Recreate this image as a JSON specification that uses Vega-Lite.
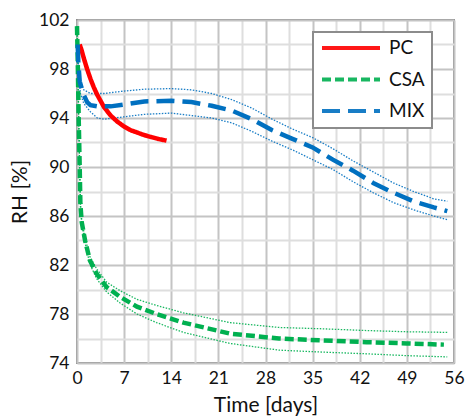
{
  "$schema": "https://vega.github.io/schema/vega-lite/v6.json",
  "width": 377,
  "height": 343,
  "autosize": {"type": "none"},
  "padding": {"left": 77, "top": 20, "right": 16, "bottom": 57},
  "background": "white",
  "config": {
    "view": {"stroke": "#8c8c8c", "strokeWidth": 2},
    "font": "Lato",
    "axis": {
      "labelFont": "Lato", "labelFontSize": 17.5, "labelColor": "#111", "labelFlush": false,
      "titleFont": "Lato", "titleFontSize": 21, "titleFontWeight": "normal", "titleColor": "#111",
      "ticks": false, "domain": false
    },
    "legend": {
      "labelFont": "Lato", "labelFontSize": 19, "labelColor": "#111", "strokeWidth": 2
    }
  },
  "datasets": {
    "curves": [
      {"series": "PC", "band": "mean", "day": 0.4, "rh": 100.0},
      {"series": "PC", "band": "mean", "day": 0.7, "rh": 99.5},
      {"series": "PC", "band": "mean", "day": 1.0, "rh": 98.9},
      {"series": "PC", "band": "mean", "day": 1.5, "rh": 98.0},
      {"series": "PC", "band": "mean", "day": 2.0, "rh": 97.2},
      {"series": "PC", "band": "mean", "day": 2.5, "rh": 96.5},
      {"series": "PC", "band": "mean", "day": 3.0, "rh": 95.9},
      {"series": "PC", "band": "mean", "day": 4.0, "rh": 94.9},
      {"series": "PC", "band": "mean", "day": 5.0, "rh": 94.2},
      {"series": "PC", "band": "mean", "day": 6.0, "rh": 93.7},
      {"series": "PC", "band": "mean", "day": 7.0, "rh": 93.3},
      {"series": "PC", "band": "mean", "day": 8.0, "rh": 93.0},
      {"series": "PC", "band": "mean", "day": 9.0, "rh": 92.8},
      {"series": "PC", "band": "mean", "day": 10.0, "rh": 92.6},
      {"series": "PC", "band": "mean", "day": 11.0, "rh": 92.45},
      {"series": "PC", "band": "mean", "day": 12.0, "rh": 92.3},
      {"series": "PC", "band": "mean", "day": 13.3, "rh": 92.15},

      {"series": "CSA", "band": "mean", "day": 0.0, "rh": 101.5},
      {"series": "CSA", "band": "mean", "day": 0.1, "rh": 99.0},
      {"series": "CSA", "band": "mean", "day": 0.25, "rh": 94.0},
      {"series": "CSA", "band": "mean", "day": 0.4, "rh": 90.0},
      {"series": "CSA", "band": "mean", "day": 0.5, "rh": 87.0},
      {"series": "CSA", "band": "mean", "day": 0.7, "rh": 85.5},
      {"series": "CSA", "band": "mean", "day": 1.2, "rh": 84.0},
      {"series": "CSA", "band": "mean", "day": 1.9, "rh": 82.4},
      {"series": "CSA", "band": "mean", "day": 2.9, "rh": 81.3},
      {"series": "CSA", "band": "mean", "day": 4.4, "rh": 80.2},
      {"series": "CSA", "band": "mean", "day": 6.4, "rh": 79.4},
      {"series": "CSA", "band": "mean", "day": 8.9, "rh": 78.6},
      {"series": "CSA", "band": "mean", "day": 11.8, "rh": 78.0},
      {"series": "CSA", "band": "mean", "day": 15.8, "rh": 77.3},
      {"series": "CSA", "band": "mean", "day": 22.7, "rh": 76.4},
      {"series": "CSA", "band": "mean", "day": 30.0, "rh": 76.0},
      {"series": "CSA", "band": "mean", "day": 36.0, "rh": 75.85},
      {"series": "CSA", "band": "mean", "day": 43.0, "rh": 75.7},
      {"series": "CSA", "band": "mean", "day": 49.0, "rh": 75.6},
      {"series": "CSA", "band": "mean", "day": 54.5, "rh": 75.5},

      {"series": "CSA", "band": "upper", "day": 0.0, "rh": 101.5},
      {"series": "CSA", "band": "upper", "day": 0.1, "rh": 99.0},
      {"series": "CSA", "band": "upper", "day": 0.25, "rh": 94.0},
      {"series": "CSA", "band": "upper", "day": 0.4, "rh": 90.0},
      {"series": "CSA", "band": "upper", "day": 0.5, "rh": 87.2},
      {"series": "CSA", "band": "upper", "day": 0.7, "rh": 85.7},
      {"series": "CSA", "band": "upper", "day": 1.2, "rh": 84.2},
      {"series": "CSA", "band": "upper", "day": 1.9, "rh": 82.7},
      {"series": "CSA", "band": "upper", "day": 2.9, "rh": 81.7},
      {"series": "CSA", "band": "upper", "day": 4.4, "rh": 80.6},
      {"series": "CSA", "band": "upper", "day": 6.4, "rh": 79.9},
      {"series": "CSA", "band": "upper", "day": 8.9, "rh": 79.2},
      {"series": "CSA", "band": "upper", "day": 11.8, "rh": 78.7},
      {"series": "CSA", "band": "upper", "day": 15.8, "rh": 78.1},
      {"series": "CSA", "band": "upper", "day": 22.7, "rh": 77.3},
      {"series": "CSA", "band": "upper", "day": 30.0, "rh": 76.9},
      {"series": "CSA", "band": "upper", "day": 36.0, "rh": 76.8},
      {"series": "CSA", "band": "upper", "day": 43.0, "rh": 76.65},
      {"series": "CSA", "band": "upper", "day": 49.0, "rh": 76.55},
      {"series": "CSA", "band": "upper", "day": 55.0, "rh": 76.5},

      {"series": "CSA", "band": "lower", "day": 0.0, "rh": 101.5},
      {"series": "CSA", "band": "lower", "day": 0.1, "rh": 99.0},
      {"series": "CSA", "band": "lower", "day": 0.25, "rh": 94.0},
      {"series": "CSA", "band": "lower", "day": 0.4, "rh": 90.0},
      {"series": "CSA", "band": "lower", "day": 0.5, "rh": 86.8},
      {"series": "CSA", "band": "lower", "day": 0.7, "rh": 85.3},
      {"series": "CSA", "band": "lower", "day": 1.2, "rh": 83.8},
      {"series": "CSA", "band": "lower", "day": 1.9, "rh": 82.1},
      {"series": "CSA", "band": "lower", "day": 2.9, "rh": 80.9},
      {"series": "CSA", "band": "lower", "day": 4.4, "rh": 79.8},
      {"series": "CSA", "band": "lower", "day": 6.4, "rh": 78.9},
      {"series": "CSA", "band": "lower", "day": 8.9, "rh": 78.0},
      {"series": "CSA", "band": "lower", "day": 11.8, "rh": 77.3},
      {"series": "CSA", "band": "lower", "day": 15.8, "rh": 76.5},
      {"series": "CSA", "band": "lower", "day": 22.7, "rh": 75.6},
      {"series": "CSA", "band": "lower", "day": 30.0, "rh": 75.05},
      {"series": "CSA", "band": "lower", "day": 36.0, "rh": 74.9},
      {"series": "CSA", "band": "lower", "day": 43.0, "rh": 74.75},
      {"series": "CSA", "band": "lower", "day": 49.0, "rh": 74.6},
      {"series": "CSA", "band": "lower", "day": 55.0, "rh": 74.5},

      {"series": "MIX", "band": "mean", "day": 0.1, "rh": 100.0},
      {"series": "MIX", "band": "mean", "day": 0.2, "rh": 98.5},
      {"series": "MIX", "band": "mean", "day": 0.4, "rh": 97.0},
      {"series": "MIX", "band": "mean", "day": 0.9, "rh": 96.0},
      {"series": "MIX", "band": "mean", "day": 1.5, "rh": 95.3},
      {"series": "MIX", "band": "mean", "day": 2.0, "rh": 95.05},
      {"series": "MIX", "band": "mean", "day": 3.0, "rh": 94.95},
      {"series": "MIX", "band": "mean", "day": 5.0, "rh": 94.95},
      {"series": "MIX", "band": "mean", "day": 7.0, "rh": 95.1},
      {"series": "MIX", "band": "mean", "day": 10.0, "rh": 95.35},
      {"series": "MIX", "band": "mean", "day": 14.0, "rh": 95.4},
      {"series": "MIX", "band": "mean", "day": 17.0, "rh": 95.3},
      {"series": "MIX", "band": "mean", "day": 20.0, "rh": 95.0},
      {"series": "MIX", "band": "mean", "day": 23.0, "rh": 94.6},
      {"series": "MIX", "band": "mean", "day": 26.0, "rh": 93.9},
      {"series": "MIX", "band": "mean", "day": 29.0, "rh": 93.0},
      {"series": "MIX", "band": "mean", "day": 32.0, "rh": 92.3},
      {"series": "MIX", "band": "mean", "day": 35.0, "rh": 91.6},
      {"series": "MIX", "band": "mean", "day": 38.0, "rh": 90.6},
      {"series": "MIX", "band": "mean", "day": 41.0, "rh": 89.7},
      {"series": "MIX", "band": "mean", "day": 44.0, "rh": 88.7},
      {"series": "MIX", "band": "mean", "day": 47.0, "rh": 87.9},
      {"series": "MIX", "band": "mean", "day": 50.0, "rh": 87.2},
      {"series": "MIX", "band": "mean", "day": 53.0, "rh": 86.7},
      {"series": "MIX", "band": "mean", "day": 55.0, "rh": 86.4},

      {"series": "MIX", "band": "upper", "day": 0.2, "rh": 98.5},
      {"series": "MIX", "band": "upper", "day": 0.5, "rh": 97.0},
      {"series": "MIX", "band": "upper", "day": 1.0, "rh": 96.3},
      {"series": "MIX", "band": "upper", "day": 2.0, "rh": 96.0},
      {"series": "MIX", "band": "upper", "day": 4.0, "rh": 96.0},
      {"series": "MIX", "band": "upper", "day": 7.0, "rh": 96.2},
      {"series": "MIX", "band": "upper", "day": 10.0, "rh": 96.35},
      {"series": "MIX", "band": "upper", "day": 14.0, "rh": 96.4},
      {"series": "MIX", "band": "upper", "day": 17.0, "rh": 96.3},
      {"series": "MIX", "band": "upper", "day": 20.0, "rh": 96.0},
      {"series": "MIX", "band": "upper", "day": 23.0, "rh": 95.5},
      {"series": "MIX", "band": "upper", "day": 26.0, "rh": 94.8},
      {"series": "MIX", "band": "upper", "day": 29.0, "rh": 93.9},
      {"series": "MIX", "band": "upper", "day": 32.0, "rh": 93.1},
      {"series": "MIX", "band": "upper", "day": 35.0, "rh": 92.4},
      {"series": "MIX", "band": "upper", "day": 38.0, "rh": 91.5},
      {"series": "MIX", "band": "upper", "day": 41.0, "rh": 90.5},
      {"series": "MIX", "band": "upper", "day": 44.0, "rh": 89.6},
      {"series": "MIX", "band": "upper", "day": 47.0, "rh": 88.7},
      {"series": "MIX", "band": "upper", "day": 50.0, "rh": 88.0},
      {"series": "MIX", "band": "upper", "day": 53.0, "rh": 87.4},
      {"series": "MIX", "band": "upper", "day": 55.0, "rh": 87.2},

      {"series": "MIX", "band": "lower", "day": 0.2, "rh": 98.0},
      {"series": "MIX", "band": "lower", "day": 0.5, "rh": 96.0},
      {"series": "MIX", "band": "lower", "day": 1.0, "rh": 95.2},
      {"series": "MIX", "band": "lower", "day": 2.0, "rh": 94.5},
      {"series": "MIX", "band": "lower", "day": 3.0, "rh": 94.0},
      {"series": "MIX", "band": "lower", "day": 4.0, "rh": 93.9},
      {"series": "MIX", "band": "lower", "day": 7.0, "rh": 94.1},
      {"series": "MIX", "band": "lower", "day": 10.0, "rh": 94.3},
      {"series": "MIX", "band": "lower", "day": 14.0, "rh": 94.4},
      {"series": "MIX", "band": "lower", "day": 17.0, "rh": 94.2},
      {"series": "MIX", "band": "lower", "day": 20.0, "rh": 94.0},
      {"series": "MIX", "band": "lower", "day": 23.0, "rh": 93.6},
      {"series": "MIX", "band": "lower", "day": 26.0, "rh": 92.9},
      {"series": "MIX", "band": "lower", "day": 29.0, "rh": 92.1},
      {"series": "MIX", "band": "lower", "day": 32.0, "rh": 91.4},
      {"series": "MIX", "band": "lower", "day": 35.0, "rh": 90.6},
      {"series": "MIX", "band": "lower", "day": 38.0, "rh": 89.8},
      {"series": "MIX", "band": "lower", "day": 41.0, "rh": 88.8},
      {"series": "MIX", "band": "lower", "day": 44.0, "rh": 87.9},
      {"series": "MIX", "band": "lower", "day": 47.0, "rh": 87.1},
      {"series": "MIX", "band": "lower", "day": 50.0, "rh": 86.5},
      {"series": "MIX", "band": "lower", "day": 53.0, "rh": 86.0},
      {"series": "MIX", "band": "lower", "day": 55.0, "rh": 85.7}
    ]
  },
  "data": {"name": "curves"},
  "encoding": {
    "x": {
      "field": "day", "type": "quantitative",
      "scale": {"domain": [0, 56], "nice": false},
      "axis": {
        "title": "Time [days]",
        "values": [0, 3.5, 7, 10.5, 14, 17.5, 21, 24.5, 28, 31.5, 35, 38.5, 42, 45.5, 49, 52.5, 56],
        "labelExpr": "datum.value % 7 === 0 ? datum.label : ''",
        "gridColor": {"condition": {"test": "datum.value % 7 === 0", "value": "#c4c4c4"}, "value": "#dedede"},
        "gridWidth": 2,
        "labelPadding": 6,
        "titlePadding": 8
      }
    },
    "y": {
      "field": "rh", "type": "quantitative",
      "scale": {"domain": [74, 102], "nice": false, "zero": false},
      "axis": {
        "title": "RH [%]",
        "values": [74, 76, 78, 80, 82, 84, 86, 88, 90, 92, 94, 96, 98, 100, 102],
        "labelExpr": "(datum.value - 74) % 4 === 0 ? datum.label : ''",
        "gridColor": {"condition": {"test": "(datum.value - 74) % 4 === 0", "value": "#c4c4c4"}, "value": "#dedede"},
        "gridWidth": 2,
        "labelPadding": 8,
        "titlePadding": 8
      }
    }
  },
  "layer": [
    {
      "transform": [{"filter": "datum.band !== 'mean'"}],
      "mark": {"type": "line", "strokeWidth": 1.3, "strokeDash": [1.5, 1.5], "opacity": 0.9},
      "encoding": {
        "color": {"field": "series", "type": "nominal", "scale": {"domain": ["PC", "CSA", "MIX"], "range": ["#ff0000", "#00b050", "#0070c0"]}},
        "detail": {"field": "band", "type": "nominal"}
      }
    },
    {
      "transform": [{"filter": "datum.band === 'mean'"}],
      "mark": {"type": "line", "strokeWidth": 4.5},
      "encoding": {
        "color": {
          "field": "series", "type": "nominal",
          "scale": {"domain": ["PC", "CSA", "MIX"], "range": ["#ff0000", "#00b050", "#0070c0"]},
          "legend": {
            "title": null, "orient": "none", "legendX": 236, "legendY": 12,
            "strokeColor": "#8c8c8c", "fillColor": "white",
            "padding": 7, "rowPadding": 12.5, "labelOffset": 7, "clipHeight": 18,
            "symbolType": "stroke", "symbolSize": 3364, "symbolStrokeWidth": 4
          }
        },
        "strokeDash": {
          "field": "series", "type": "nominal",
          "scale": {"domain": ["PC", "CSA", "MIX"], "range": [[1, 0], [9, 4], [18, 8]]},
          "legend": {
            "title": null, "orient": "none", "legendX": 236, "legendY": 12,
            "strokeColor": "#8c8c8c", "fillColor": "white",
            "padding": 7, "rowPadding": 12.5, "labelOffset": 7, "clipHeight": 18,
            "symbolType": "stroke", "symbolSize": 3364, "symbolStrokeWidth": 4
          }
        }
      }
    }
  ]
}
